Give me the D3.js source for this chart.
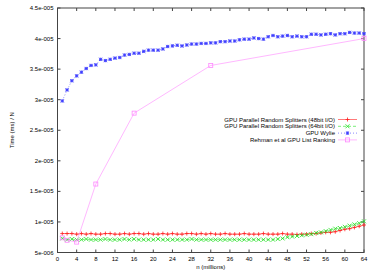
<!DOCTYPE html>
<html>
<head>
<meta charset="utf-8">
<script src="https://cdn.jsdelivr.net/npm/d3@7"></script>
<style>
  body { margin: 0; background: #fff; }
  svg { display: block; font-family: "Liberation Sans", Arial, sans-serif; }
</style>
</head>
<body>
<svg id="chart" width="374" height="273"></svg>
<script>
// values in units of 1e-6 ms
const nAll = d3.range(1, 65)
const red48 = [8.1,8.1,8.1,8.0,8.1,8.0,8.1,8.0,8.0,8.1,8.1,8.0,8.0,8.1,8.0,8.1,
               8.1,8.0,8.1,8.0,8.0,8.1,8.0,8.1,8.0,8.0,8.1,8.1,8.0,8.1,8.0,8.1,
               8.0,8.0,8.1,8.0,8.0,8.0,8.1,8.0,8.0,8.0,8.1,8.0,8.0,8.0,8.1,8.0,
               8.0,7.95,8.0,8.0,8.1,8.1,8.2,8.3,8.3,8.4,8.6,8.8,8.9,9.1,9.3,9.5]
const green64 = [7.3,7.1,7.2,7.1,7.1,7.2,7.1,7.1,7.1,7.2,7.1,7.1,7.1,7.2,7.1,7.2,
                 7.1,7.1,7.1,7.1,7.2,7.1,7.1,7.1,7.1,7.1,7.1,7.2,7.1,7.1,7.1,7.1,
                 7.1,7.1,7.1,7.1,7.1,7.1,7.1,7.1,7.1,7.1,7.1,7.1,7.1,7.2,7.3,7.5,
                 7.6,7.7,7.8,7.9,8.0,8.2,8.3,8.5,8.7,8.9,9.0,9.2,9.4,9.6,9.8,10.1]
const wylie = [29.8,31.6,33.1,33.9,34.5,35.1,35.6,35.7,36.6,36.4,36.6,36.8,36.9,37.3,37.4,37.6,
               37.6,37.9,38.1,38.1,38.1,38.3,38.7,38.8,38.9,38.8,38.95,39.1,39.1,39.2,39.2,39.3,
               39.3,39.5,39.5,39.6,39.6,39.8,39.9,39.9,40.1,40.0,39.9,40.3,40.5,40.3,40.4,40.5,
               40.3,40.4,40.3,40.3,40.7,40.7,40.6,40.7,40.8,40.6,40.8,40.8,41.0,40.9,40.9,40.8]
const rehmanN = [1, 2, 4, 8, 16, 32, 64]
const rehman = [7.4, 7.0, 6.7, 16.2, 27.8, 35.6, 40.0]

const xTicks = d3.range(0, 65, 4)
const yTicks = [5, 10, 15, 20, 25, 30, 35, 40, 45]
const yTickLabels = ['5e-006','1e-005','1.5e-005','2e-005','2.5e-005','3e-005','3.5e-005','4e-005','4.5e-005']

const series = [
  {name: 'GPU Parallel Random Splitters (48bit I/O)', n: nAll, v: red48, color: '#ff2020', dash: null, mark: 'plus'},
  {name: 'GPU Parallel Random Splitters (64bit I/O)', n: nAll, v: green64, color: '#20e020', dash: '3,2', mark: 'cross'},
  {name: 'GPU Wylie', n: nAll, v: wylie, color: '#3a3aff', dash: '1,2', mark: 'star'},
  {name: 'Rehman et al GPU List Ranking', n: rehmanN, v: rehman, color: '#ff88ff', dash: null, mark: 'box'}
]

const svg = d3.select('#chart')
const pLeft = 57.5, pRight = 364, pTop = 8, pBottom = 252.5
const x = d3.scaleLinear().domain([0, 64]).range([pLeft, pRight])
const y = d3.scaleLinear().domain([5, 45]).range([pBottom, pTop])

// frame
svg.append('rect')
  .attr('x', pLeft).attr('y', pTop)
  .attr('width', pRight - pLeft).attr('height', pBottom - pTop)
  .attr('fill', 'none').attr('stroke', '#444').attr('stroke-width', 1)

// ticks, mirrored inside
const tk = 3
xTicks.forEach(t => {
  svg.append('line').attr('x1', x(t)).attr('x2', x(t)).attr('y1', pBottom).attr('y2', pBottom - tk).attr('stroke', '#444')
  svg.append('line').attr('x1', x(t)).attr('x2', x(t)).attr('y1', pTop).attr('y2', pTop + tk).attr('stroke', '#444')
  svg.append('text').attr('x', x(t)).attr('y', pBottom + 8.5)
    .attr('text-anchor', 'middle').attr('font-size', 6).text(t)
})
yTicks.forEach((t, i) => {
  svg.append('line').attr('x1', pLeft).attr('x2', pLeft + tk).attr('y1', y(t)).attr('y2', y(t)).attr('stroke', '#444')
  svg.append('line').attr('x1', pRight).attr('x2', pRight - tk).attr('y1', y(t)).attr('y2', y(t)).attr('stroke', '#444')
  svg.append('text').attr('x', pLeft - 4).attr('y', y(t) + 2)
    .attr('text-anchor', 'end').attr('font-size', 6).text(yTickLabels[i])
})

svg.append('text').attr('x', (pLeft + pRight) / 2).attr('y', 268.5)
  .attr('text-anchor', 'middle').attr('font-size', 6).text('n (millions)')
svg.append('text').attr('transform', `translate(14, ${(pTop + pBottom) / 2}) rotate(-90)`)
  .attr('text-anchor', 'middle').attr('font-size', 6).text('Time (ms) / N')

function marker(g, type, cx, cy, color) {
  const s = type === 'star' ? 1.6 : 2
  if (type === 'plus' || type === 'star') {
    g.append('path').attr('d', `M${cx - s},${cy}H${cx + s}M${cx},${cy - s}V${cy + s}`)
      .attr('stroke', color).attr('stroke-width', 0.8).attr('fill', 'none')
  }
  if (type === 'cross' || type === 'star') {
    g.append('path').attr('d', `M${cx - s},${cy - s}L${cx + s},${cy + s}M${cx - s},${cy + s}L${cx + s},${cy - s}`)
      .attr('stroke', color).attr('stroke-width', 0.8).attr('fill', 'none')
  }
  if (type === 'star') {
    g.append('rect').attr('x', cx - s).attr('y', cy - s).attr('width', 2 * s).attr('height', 2 * s)
      .attr('fill', color).attr('fill-opacity', 0.35)
  }
  if (type === 'box') {
    g.append('rect').attr('x', cx - s).attr('y', cy - s).attr('width', 2 * s).attr('height', 2 * s)
      .attr('fill', 'none').attr('stroke', color).attr('stroke-width', 0.8)
  }
}

const line = d3.line().x(d => x(d[0])).y(d => y(d[1]))
series.forEach(s => {
  const pts = s.n.map((n, i) => [n, s.v[i]])
  const g = svg.append('g')
  g.append('path').datum(pts).attr('d', line)
    .attr('fill', 'none').attr('stroke', s.color).attr('stroke-width', 0.6)
    .attr('stroke-dasharray', s.dash)
  pts.forEach(p => marker(g, s.mark, x(p[0]), y(p[1]), s.color))
})

// legend
const lgX = 335, lgY = 119.5, lgStep = 6.8
series.forEach((s, i) => {
  const ly = lgY + i * lgStep
  svg.append('text').attr('x', lgX).attr('y', ly + 2)
    .attr('text-anchor', 'end').attr('font-size', 6).text(s.name)
  svg.append('line').attr('x1', lgX + 3).attr('x2', lgX + 22).attr('y1', ly).attr('y2', ly)
    .attr('stroke', s.color).attr('stroke-width', 0.6).attr('stroke-dasharray', s.dash)
  marker(svg, s.mark, lgX + 12.5, ly, s.color)
})
</script>
</body>
</html>
